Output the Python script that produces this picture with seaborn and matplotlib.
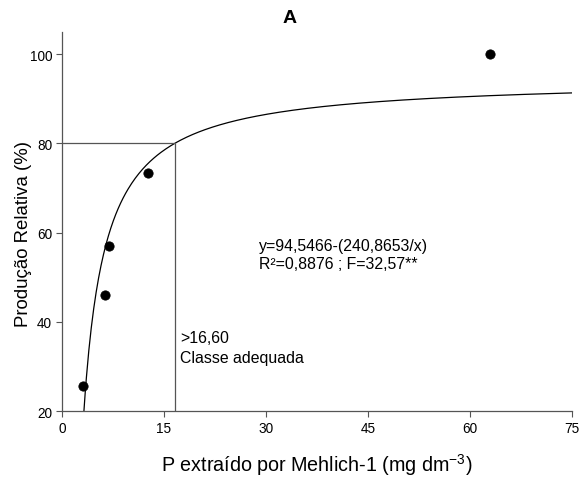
import numpy as np
import pandas as pd
import matplotlib
matplotlib.use("Agg")
import matplotlib.pyplot as plt
import seaborn as sns

# observed points
p_mehlich = [3.1, 6.4, 6.9, 12.6, 63.0]
prod_rel = [25.6, 46.0, 57.0, 73.4, 100.0]

# fitted model y = a - b/x, from the equation on the chart
coef_a = 94.5466
coef_b = 240.8653
critical_x = 16.60
critical_y = 80

x_ticks = [0, 15, 30, 45, 60, 75]
y_ticks = [20, 40, 60, 80, 100]

sns.set_theme(style="ticks")
plt.rcParams["font.family"] = ["Liberation Sans", "DejaVu Sans"]
plt.rcParams["text.color"] = "black"
plt.rcParams["axes.labelcolor"] = "black"
plt.rcParams["mathtext.fontset"] = "custom"
plt.rcParams["mathtext.rm"] = "Liberation Sans"
plt.rcParams["mathtext.default"] = "regular"

fig = plt.figure(figsize=(5.79, 4.85), dpi=100)
ax = fig.add_axes([0.107, 0.1505, 0.881, 0.7815])

x_fit = np.linspace(coef_b / (coef_a - 20), 75, 400)
fit = pd.DataFrame({"x": x_fit, "y": coef_a - coef_b / x_fit})
sns.lineplot(data=fit, x="x", y="y", ax=ax, color="black", linewidth=0.9)

pts = pd.DataFrame({"x": p_mehlich, "y": prod_rel})
sns.scatterplot(data=pts, x="x", y="y", ax=ax, color="black", s=45, edgecolor="black", zorder=5)

ax.plot([0, critical_x], [critical_y, critical_y], color="#555555", linewidth=0.9)
ax.plot([critical_x, critical_x], [20, critical_y], color="#555555", linewidth=0.9)

ax.text(28.9, 57.2, "y=94,5466-(240,8653/x)", fontsize=11.4, va="center")
ax.text(28.9, 53.1, "R²=0,8876 ; F=32,57**", fontsize=11.4, va="center")
ax.text(17.4, 36.4, ">16,60", fontsize=11.4, va="center")
ax.text(17.4, 32.1, "Classe adequada", fontsize=11.4, va="center")

ax.set_xlim(0, 75)
ax.set_ylim(20, 105)
ax.set_xticks(x_ticks)
ax.set_yticks(y_ticks)
ax.tick_params(labelsize=9.8, length=4, width=0.8, color="#555555", labelcolor="black", pad=3)
ax.set_xlabel("P extraído por Mehlich-1 (mg dm$^{-3}$)", fontsize=14.2, labelpad=12)
ax.set_ylabel("Produção Relativa (%)", fontsize=13.4)
ax.yaxis.set_label_coords(-0.059, 0.47)
for s in ["top", "right"]:
    ax.spines[s].set_visible(False)
for s in ["left", "bottom"]:
    ax.spines[s].set_color("#555555")
    ax.spines[s].set_linewidth(0.9)

fig.text(0.5, 0.962, "A", fontsize=14, fontweight="bold", ha="center", va="center")

fig.savefig("out.png", dpi=100)
